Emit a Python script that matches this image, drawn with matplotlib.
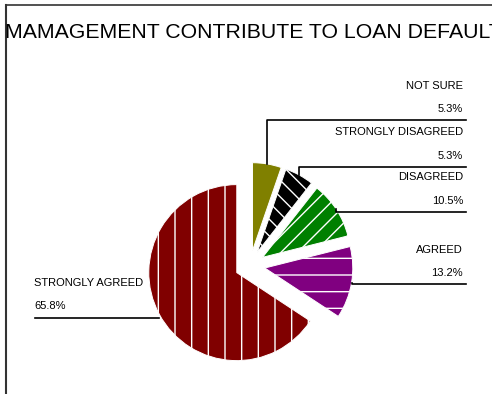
import numpy as np
import matplotlib.pyplot as plt

# Survey responses (percent of respondents)
categories = ["NOT SURE", "STRONGLY DISAGREED", "DISAGREED", "AGREED", "STRONGLY AGREED"]
percents = [5.3, 5.3, 10.5, 13.2, 65.8]
pct_labels = ["5.3%", "5.3%", "10.5%", "13.2%", "65.8%"]

colors = ["#808000", "#000000", "#008000", "#800080", "#800000"]
hatches = ["", "\\\\", "//", "-", "|"]

W, H = 492, 394
plt.rcParams['font.family'] = ['Liberation Sans', 'DejaVu Sans']
plt.rcParams['hatch.linewidth'] = 1.0

fig = plt.figure(figsize=(W / 100, H / 100), dpi=100)
ax = fig.add_axes([0, 0, 1, 1])

center = (250, H - 265.5)
radius = 88
offset = 15

wedges, _ = ax.pie(percents, colors=colors, hatch=hatches, startangle=90,
                   counterclock=False, explode=[offset] * len(percents),
                   radius=radius, center=center,
                   wedgeprops=dict(edgecolor='white', linewidth=0.7))

# pie() resets the limits, so work in pixel units afterwards
ax.set_xlim(0, W)
ax.set_ylim(0, H)
ax.set_aspect('equal')
ax.axis('off')

# chart frame (left and top edges only)
ax.plot([5.5, 5.5], [0, H - 4.5], color='#333333', lw=1.5, clip_on=False)
ax.plot([5.5, W], [H - 4.5, H - 4.5], color='#333333', lw=1.2, clip_on=False)

# title runs off the right edge of the chart area
ax.text(5, H - 32, "MAMAGEMENT CONTRIBUTE TO LOAN DEFAULT", fontsize=15.3,
        ha='left', va='center', color='black')

# leader line y (image rows) for each label
line_rows = [120, 166.7, 211.7, 284.3, 317.7]
right_end = 466
for w, name, pct, row in zip(wedges, categories, pct_labels, line_rows):
    mid = np.deg2rad((w.theta1 + w.theta2) / 2)
    cx, cy = w.center
    mx = cx + w.r * np.cos(mid)
    my = cy + w.r * np.sin(mid)
    ly = H - row
    if name == "STRONGLY AGREED":
        ax.plot([35, mx], [ly, ly], color='black', lw=1.2, zorder=3)
        ax.text(34, ly + 34.5, name, fontsize=8, ha='left', va='center')
        ax.text(34, ly + 11.5, pct, fontsize=8, ha='left', va='center')
    else:
        ax.plot([mx, mx, right_end], [my, ly, ly], color='black', lw=1.2, zorder=3)
        ax.text(463, ly + 34.5, name, fontsize=8, ha='right', va='center')
        ax.text(463, ly + 11, pct, fontsize=8, ha='right', va='center')

fig.savefig("out.png", dpi=100)
